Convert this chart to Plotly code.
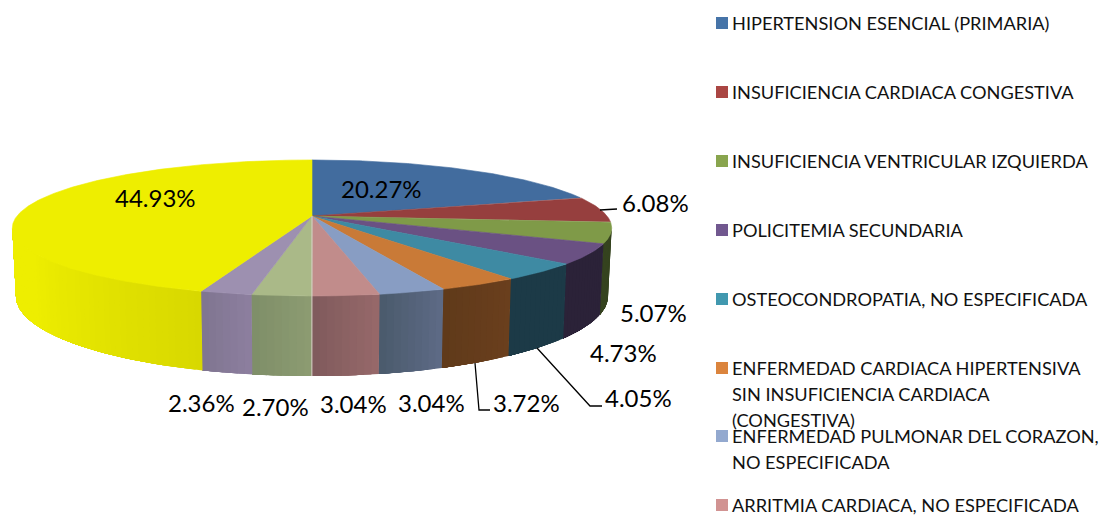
import math
import plotly.graph_objects as go

# ---- data ----
PERCENTS = [20.27, 6.08, 5.07, 4.73, 4.05, 3.72, 3.04, 3.04, 2.70, 2.36, 44.93]
LEGEND_LINES = [
    ["HIPERTENSION ESENCIAL (PRIMARIA)"],
    ["INSUFICIENCIA CARDIACA CONGESTIVA"],
    ["INSUFICIENCIA VENTRICULAR IZQUIERDA"],
    ["POLICITEMIA SECUNDARIA"],
    ["OSTEOCONDROPATIA, NO ESPECIFICADA"],
    ["ENFERMEDAD CARDIACA HIPERTENSIVA", "SIN INSUFICIENCIA CARDIACA", "(CONGESTIVA)"],
    ["ENFERMEDAD PULMONAR DEL CORAZON,", "NO ESPECIFICADA"],
    ["ARRITMIA CARDIACA, NO ESPECIFICADA"],
]

# ---- styles ----
TOP_COLORS = ["#426c9e", "#963f3e", "#7f9a48", "#6a5183", "#3e8aa3", "#c97a37",
              "#889dc3", "#c18c8b", "#aab988", "#9d90b0", "#eeee00"]
LEGEND_COLORS = ["#4674a8", "#aa4643", "#89a54e", "#71588f", "#4198af", "#db843d",
                 "#93a9cf", "#d19392"]
WALL_START = ["#426c9e", "#963f3e", "#35431f", "#2b2238", "#1c3a47", "#6b3f1d",
              "#5e6b86", "#97696a", "#8d9c72", "#8d7f9f", "#d8d800"]
WALL_END = ["#426c9e", "#963f3e", "#35431f", "#2b2238", "#1c3a47", "#5f3a1a",
            "#4a5a6c", "#7f5a5c", "#7e8e68", "#7f7590", "#eeee00"]

LABEL_POS = [(381, 188), (655, 202), (653, 312), (623, 352), (638, 397), (526, 402),
             (431, 402), (353, 403), (275, 406), (201, 402), (155, 197)]
LEADERS = [
    [(600, 210), (617, 209)],
    [(475, 363), (479, 410), (490, 410)],
    [(537, 348), (590, 406), (602, 406)],
]
LEGEND_Y = [23, 92, 161, 230, 299, 368, 436, 505]
LINE_STEP = 26
FONT = "Lato"

# ---- projection of the tilted disc ----
CX, CY, RX, RY, KP, DEPTH, BASE_SCALE = 312, 216, 295, 65.9, 0.176, 66, 0.988


def rim(deg, base=False):
    t = math.radians(deg)
    u, v = math.sin(t), -math.cos(t)
    w = 1 - KP * v
    x, y = RX * u / w, RY * v / w
    if base:
        return CX + x * BASE_SCALE, CY + y + DEPTH / w
    return CX + x, CY + y


def arc(a, b, base=False):
    n = max(2, int(abs(b - a) * 2) + 1)
    return [rim(a + (b - a) * i / (n - 1), base) for i in range(n)]


def hex_rgb(h):
    return tuple(int(h[i:i + 2], 16) for i in (1, 3, 5))


def lerp(c1, c2, t):
    a, b = hex_rgb(c1), hex_rgb(c2)
    return "rgb(%d,%d,%d)" % tuple(round(p + (q - p) * t) for p, q in zip(a, b))


def poly(pts, color, width=0.6):
    return go.Scatter(x=[p[0] for p in pts] + [pts[0][0]], y=[p[1] for p in pts] + [pts[0][1]],
                      mode="lines", fill="toself", fillcolor=color,
                      line=dict(color=color, width=width), hoverinfo="skip", showlegend=False)


total = sum(PERCENTS)
edges = [0.0]
for p in PERCENTS:
    edges.append(edges[-1] + p / total * 360)

fig = go.Figure()

# visible wall runs between the two horizontal extremes of the projected rim
VIS_A, VIS_B = math.degrees(math.acos(-KP)), 360 - math.degrees(math.acos(-KP))
for i in range(len(PERCENTS)):
    a, b = max(edges[i], VIS_A), min(edges[i + 1], VIS_B)
    if b <= a:
        continue
    strips = max(1, int((b - a) / 1.2))
    for s in range(strips):
        s0 = a + (b - a) * s / strips
        # each strip runs to the slice end; the next one paints over it, so no seams appear
        t = (s + 0.5) / strips
        if i == len(PERCENTS) - 1:
            t = min(1.0, t * 1.5)
        col = lerp(WALL_START[i], WALL_END[i], t)
        fig.add_trace(poly(arc(s0, b) + arc(b, s0, True), col, width=0))

# top face
for i in range(len(PERCENTS)):
    fig.add_trace(poly([(CX, CY)] + arc(edges[i], edges[i + 1]), TOP_COLORS[i]))

# pale seam at the boundary that faces the viewer
seam = edges[8]
sx, sy = rim(seam)
bx, by = rim(seam, True)
fig.add_trace(go.Scatter(x=[CX, sx, bx], y=[CY, sy, by], mode="lines",
                         line=dict(color="#d9d2c8", width=1), hoverinfo="skip", showlegend=False))

# leader lines
for ln in LEADERS:
    fig.add_trace(go.Scatter(x=[p[0] for p in ln], y=[p[1] for p in ln], mode="lines",
                             line=dict(color="black", width=1.3), hoverinfo="skip", showlegend=False))

# legend swatches
fig.add_trace(go.Scatter(x=[722] * len(LEGEND_Y), y=LEGEND_Y, mode="markers",
                         marker=dict(symbol="square", size=12, color=LEGEND_COLORS, line=dict(width=0)),
                         hoverinfo="skip", showlegend=False))

ann = []
for p, (lx, ly) in zip(PERCENTS, LABEL_POS):
    ann.append(dict(x=lx, y=ly, text="%.2f%%" % p, showarrow=False, xanchor="center", yanchor="middle",
                    font=dict(family=FONT, size=24, color="black")))
for lines, ly in zip(LEGEND_LINES, LEGEND_Y):
    for j, line in enumerate(lines):
        ann.append(dict(x=733, y=ly + j * LINE_STEP, text=line, showarrow=False, xanchor="left",
                        yanchor="middle", xshift=-3, font=dict(family=FONT, size=18.2, color="#111111")))

fig.update_layout(
    width=1104, height=516, margin=dict(l=0, r=0, t=0, b=0),
    paper_bgcolor="white", plot_bgcolor="white", showlegend=False, annotations=ann,
    xaxis=dict(range=[0, 1104], visible=False, fixedrange=True),
    yaxis=dict(range=[516, 0], visible=False, fixedrange=True),
)
fig.write_html("out.html", config=dict(displayModeBar=False),
               post_script="document.body.style.margin='0';document.body.style.overflow='hidden';")
